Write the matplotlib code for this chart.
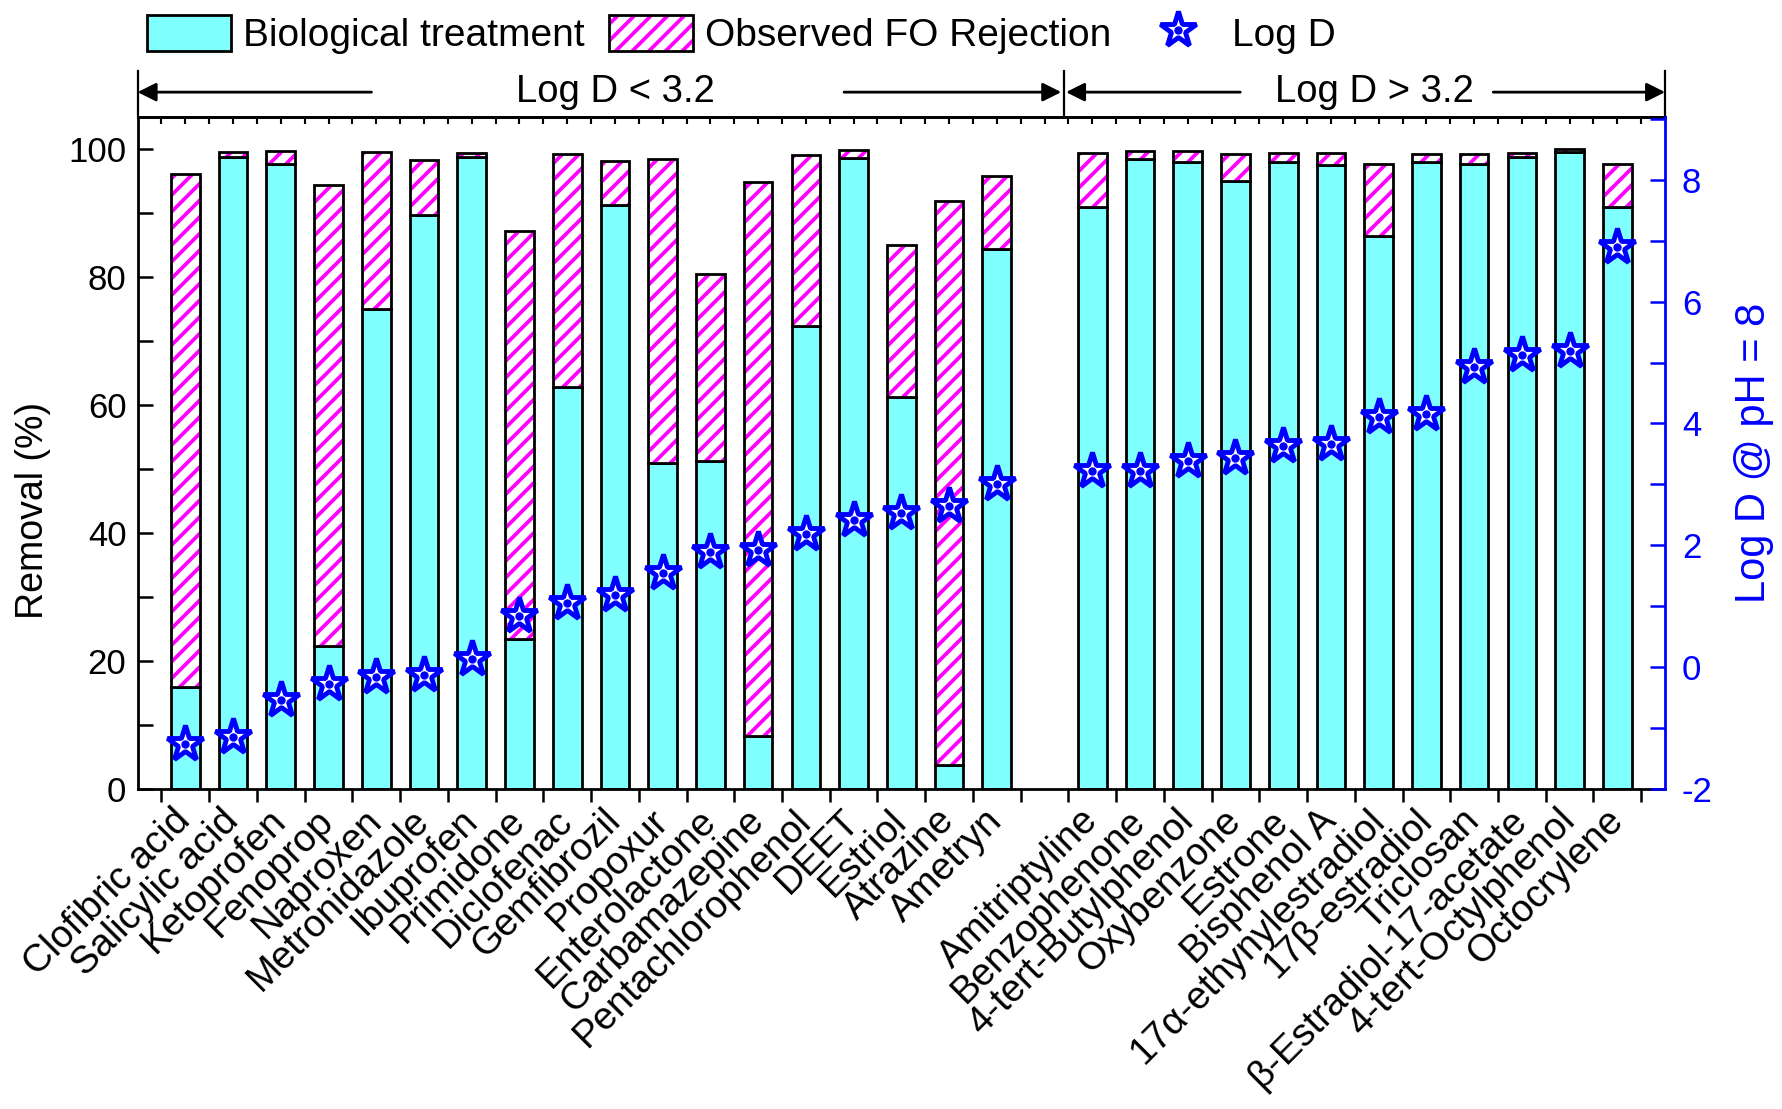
import matplotlib
matplotlib.use("Agg")
import matplotlib.pyplot as plt
import numpy as np
from matplotlib.patches import Patch
from matplotlib.lines import Line2D
from matplotlib.ticker import MultipleLocator
from matplotlib.legend_handler import HandlerTuple

plt.rcParams["font.family"] = ["Liberation Sans", "DejaVu Sans"]
plt.rcParams["font.size"] = 25
plt.rcParams["hatch.linewidth"] = 2.7
plt.rcParams["axes.unicode_minus"] = False

# Compounds with Log D < 3.2
low_names = ["Clofibric acid", "Salicylic acid", "Ketoprofen", "Fenoprop", "Naproxen",
             "Metronidazole", "Ibuprofen", "Primidone", "Diclofenac", "Gemfibrozil",
             "Propoxur", "Enterolactone", "Carbamazepine", "Pentachlorophenol", "DEET",
             "Estriol", "Atrazine", "Ametryn"]
low_bio = [16.0, 98.8, 97.6, 22.4, 75.0, 89.7, 98.7, 23.4, 62.8, 91.2,
           51.0, 51.3, 8.2, 72.3, 98.6, 61.3, 3.8, 84.4]
low_total = [96.1, 99.5, 99.7, 94.4, 99.6, 98.3, 99.4, 87.2, 99.2, 98.2,
             98.4, 80.5, 94.8, 99.0, 99.8, 85.0, 91.9, 95.8]
low_logd = [-1.27, -1.15, -0.54, -0.28, -0.17, -0.13, 0.14, 0.84, 1.06, 1.19,
            1.55, 1.89, 1.92, 2.19, 2.42, 2.53, 2.65, 3.00]

# Compounds with Log D > 3.2
high_names = ["Amitriptyline", "Benzophenone", "4-tert-Butylphenol", "Oxybenzone", "Estrone",
              "Bisphenol A", "17α-ethynylestradiol", "17β-estradiol", "Triclosan",
              "β-Estradiol-17-acetate", "4-tert-Octylphenol", "Octocrylene"]
high_bio = [90.9, 98.5, 97.9, 95.0, 98.0, 97.5, 86.4, 98.0, 97.6, 98.8, 99.6, 90.9]
high_total = [99.3, 99.7, 99.7, 99.2, 99.3, 99.3, 97.6, 99.2, 99.2, 99.3, 100.0, 97.6]
high_logd = [3.22, 3.22, 3.39, 3.43, 3.63, 3.66, 4.11, 4.15, 4.93, 5.13, 5.19, 6.90]

CYAN = "#80FFFF"
MAGENTA = "#FF00FF"
BLUE = "#0000FF"

names = low_names + high_names
bio = np.array(low_bio + high_bio)
total = np.array(low_total + high_total)
logd = np.array(low_logd + high_logd)
x = np.concatenate([np.arange(len(low_names)),
                    np.arange(len(low_names) + 1, len(low_names) + 1 + len(high_names))])

fig = plt.figure(figsize=(17.82, 11.09), dpi=100)
ax = fig.add_axes([0.0772, 0.2886, 0.8572, 0.6059])

width = 0.6
ax.bar(x, bio, width, color=CYAN, edgecolor="black", linewidth=2.0, zorder=2)
ax.bar(x, total - bio, width, bottom=bio, color="white", edgecolor=MAGENTA,
       hatch="//", linewidth=0, zorder=2)
ax.bar(x, total - bio, width, bottom=bio, fill=False, edgecolor="black",
       linewidth=2.0, zorder=3)

ax.set_xlim(-1, 31)
ax.set_ylim(0, 105)
ax.set_ylabel("Removal (%)", fontsize=27)
ax.yaxis.set_label_coords(-0.057, 0.415)

ax.set_xticks(x)
ax.set_xticklabels(names, rotation=45, ha="right", va="center", rotation_mode="anchor",
                   fontsize=27.5)
ax.set_xticks(np.arange(-0.5, 31, 1), minor=True)
ax.tick_params(axis="x", which="major", length=0, pad=19)
ax.tick_params(axis="x", which="minor", length=9, width=1.8, direction="out")

ax.set_yticks(np.arange(0, 101, 20))
ax.yaxis.set_minor_locator(MultipleLocator(10))
ax.tick_params(axis="y", which="both", direction="in", length=11, width=1.8, pad=8)

for side in ["left", "top", "bottom"]:
    ax.spines[side].set_linewidth(2.0)
ax.spines["right"].set_visible(False)

# Small inward ticks along the top edge
top = ax.secondary_xaxis("top")
top.set_xticks(np.arange(-0.5, 31, 0.5))
top.tick_params(direction="in", length=5, width=1.5, labeltop=False)
top.spines["top"].set_linewidth(2.0)

# Log D on the secondary axis
ax2 = ax.twinx()
ax2.set_ylim(-2, 9.03)
ax2.plot(x, logd, linestyle="none", marker="*", markersize=27, markerfacecolor="white",
         markeredgecolor=BLUE, markeredgewidth=3.5, zorder=5)
ax2.plot(x, logd, linestyle="none", marker="o", markersize=5, color=BLUE, zorder=6)
ax2.set_yticks(np.arange(-2, 9, 2))
ax2.yaxis.set_minor_locator(MultipleLocator(1))
ax2.tick_params(axis="y", which="both", direction="in", length=11, width=1.8,
                colors=BLUE, pad=12)
ax2.set_ylabel("Log D @ pH = 8", color=BLUE, fontsize=30)
ax2.yaxis.set_label_coords(1.045, 0.5)
ax2.spines["right"].set_color(BLUE)
ax2.spines["right"].set_linewidth(2.0)
for side in ["left", "top", "bottom"]:
    ax2.spines[side].set_visible(False)

# Log D range annotations above the plot
trans = ax.get_xaxis_transform()
y_arrow = 1.037
for xv in [-1, 18.4, 31]:
    ax.plot([xv, xv], [1.0, 1.068], transform=trans, color="black", lw=1.6, clip_on=False)

arrow_kw = dict(arrowstyle="-|>", color="black", lw=2.0, mutation_scale=28,
                shrinkA=0, shrinkB=0)
for x_from, x_to in [(3.9, -1), (13.8, 18.35), (22.1, 18.45), (27.4, 31)]:
    ax.annotate("", xy=(x_to, y_arrow), xytext=(x_from, y_arrow), xycoords=trans,
                textcoords=trans, arrowprops=arrow_kw, annotation_clip=False)
ax.text(9.0, y_arrow, "Log D < 3.2", transform=trans, ha="center", va="center", fontsize=27.5)
ax.text(24.9, y_arrow, "Log D > 3.2", transform=trans, ha="center", va="center", fontsize=27.5)

# Legend
h_bio = Patch(facecolor=CYAN, edgecolor="black", linewidth=2.0)
h_fo = (Patch(facecolor="white", edgecolor=MAGENTA, hatch="//", linewidth=0),
        Patch(fill=False, edgecolor="black", linewidth=2.0))
h_logd = (Line2D([], [], linestyle="none", marker="*", markersize=27, markerfacecolor="white",
                 markeredgecolor=BLUE, markeredgewidth=3.5),
          Line2D([], [], linestyle="none", marker="o", markersize=5, color=BLUE))
fig.legend([h_bio, h_fo, h_logd], ["Biological treatment", "Observed FO Rejection", "Log D"],
           handler_map={tuple: HandlerTuple(ndivide=1, pad=0)},
           loc="center", bbox_to_anchor=(0.416, 0.969), ncol=3, frameon=False,
           fontsize=28, handlelength=2.15, handleheight=1.05, handletextpad=0.3,
           columnspacing=0.65)

fig.savefig("out.png", dpi=100)
